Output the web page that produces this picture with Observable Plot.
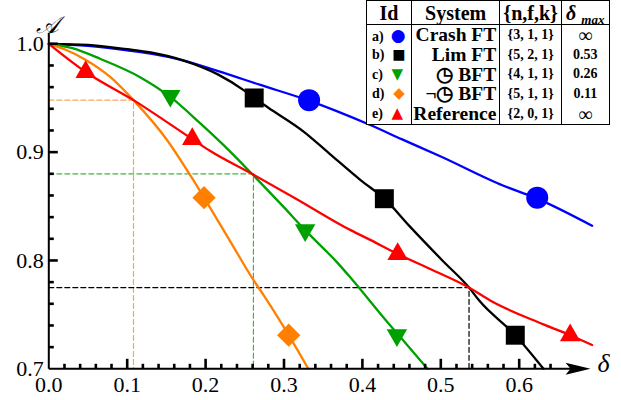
<!DOCTYPE html>
<html><head><meta charset="utf-8">
<script src="https://cdn.jsdelivr.net/npm/d3@7"></script>
<script src="https://cdn.jsdelivr.net/npm/@observablehq/plot@0.6"></script>
<style>
html,body{margin:0;padding:0;background:#fff;}
#wrap{position:relative;width:621px;height:400px;font-family:"Liberation Serif","Times New Roman",serif;}
#legend{position:absolute;left:366px;top:0px;border-collapse:collapse;table-layout:fixed;background:#fff;border:1.5px solid #000;color:#000;}
#legend td,#legend th{padding:0;margin:0;white-space:nowrap;line-height:1;}
#legend th{height:23px;font-weight:bold;font-size:20px;border-bottom:1px solid #000;border-right:1px solid #000;text-align:center;}
#legend td{height:18.8px;border-right:1px solid #000;font-weight:bold;}
#legend td.id{font-size:14px;text-align:left;padding-left:5px;}
#legend td.id span.g{display:inline-block;width:22px;text-align:center;font-family:"DejaVu Sans";font-weight:normal;}
#legend td.sys{font-size:19.5px;text-align:right;padding-right:3px;}
#legend td.nfk{font-size:14px;text-align:center;}
#legend td.dm{font-size:14px;text-align:center;}
#legend td.dm.inf{font-size:20px;font-weight:normal;}
</style></head><body><div id="wrap"></div><script>
// ---- legend table data ----
const ids = ["a)", "b)", "c)", "d)", "e)"];
const systems = ["Crash FT", "Lim FT", "\u25F7 BFT", "\u00AC\u25F7 BFT", "Reference"];
const nfk = ["{3, 1, 1}", "{5, 2, 1}", "{4, 1, 1}", "{5, 1, 1}", "{2, 0, 1}"];
const deltaMaxLabels = ["\u221E", "0.53", "0.26", "0.11", "\u221E"];
const colors = ["#0000ff", "#000000", "#00a000", "#ff8000", "#ff0000"];
const legendGlyphs = ["\u25CF", "\u25A0", "\u25BC", "\u25C6", "\u25B2"];
const glyphSizes = [17, 14, 15, 15, 15];

// ---- series (delta, A) ----
const crashD = [0, 0.05, 0.10, 0.13, 0.17, 0.215, 0.27, 0.33, 0.41, 0.45, 0.50, 0.58, 0.62, 0.693];
const crashA = [1.0, 0.998, 0.994, 0.991, 0.985, 0.975, 0.962, 0.948, 0.925, 0.912, 0.896, 0.869, 0.858, 0.832];
const limD = [0, 0.05, 0.10, 0.13, 0.17, 0.215, 0.249, 0.262, 0.28, 0.325, 0.359, 0.398, 0.428, 0.461, 0.502, 0.536, 0.549, 0.595, 0.631];
const limA = [1.0, 0.999, 0.995, 0.992, 0.985, 0.972, 0.957, 0.950, 0.941, 0.919, 0.898, 0.874, 0.857, 0.831, 0.800, 0.775, 0.763, 0.731, 0.70];
const bftD = [0, 0.03, 0.066, 0.117, 0.155, 0.194, 0.232, 0.259, 0.300, 0.327, 0.368, 0.385, 0.432, 0.444, 0.483];
const bftA = [1.0, 0.996, 0.986, 0.969, 0.951, 0.926, 0.900, 0.880, 0.849, 0.828, 0.798, 0.784, 0.743, 0.733, 0.70];
const nbftD = [0, 0.02, 0.045, 0.079, 0.108, 0.151, 0.181, 0.198, 0.232, 0.261, 0.274, 0.306, 0.331];
const nbftA = [1.0, 0.995, 0.986, 0.969, 0.948, 0.911, 0.878, 0.858, 0.817, 0.782, 0.768, 0.731, 0.70];
const refD = [0, 0.047, 0.108, 0.183, 0.206, 0.259, 0.313, 0.385, 0.41, 0.445, 0.49, 0.536, 0.563, 0.631, 0.665, 0.693];
const refA = [1.0, 0.974, 0.948, 0.912, 0.901, 0.880, 0.858, 0.828, 0.819, 0.806, 0.791, 0.775, 0.763, 0.741, 0.731, 0.722];

// ---- marker positions ----
const crashMD = [0.332, 0.623], crashMA = [0.948, 0.858];
const limMD = [0.262, 0.428, 0.595], limMA = [0.950, 0.857, 0.731];
const bftMD = [0.155, 0.327, 0.444], bftMA = [0.952, 0.828, 0.731];
const nbftMD = [0.198, 0.306], nbftMA = [0.858, 0.731];
const refMD = [0.047, 0.183, 0.445, 0.665], refMA = [0.974, 0.912, 0.806, 0.731];

// ---- delta_max guide lines ----
const guideD = [0.108, 0.261, 0.536];
const guideA = [0.948, 0.880, 0.775];
const guideColors = ["#f6a860", "#40b840", "#000000"];

// ---- ticks ----
const xMajor = [0, 0.1, 0.2, 0.3, 0.4, 0.5, 0.6];
const xMinor = [0.02, 0.04, 0.06, 0.08, 0.12, 0.14, 0.16, 0.18, 0.22, 0.24, 0.26, 0.28, 0.32, 0.34, 0.36, 0.38, 0.42, 0.44, 0.46, 0.48, 0.52, 0.54, 0.56, 0.58, 0.62, 0.64];
const xTickMajor = [0.1, 0.2, 0.3, 0.4, 0.5, 0.6];
const yMajor = [0.7, 0.8, 0.9, 1.0];
const yMinor = [0.72, 0.74, 0.76, 0.78, 0.82, 0.84, 0.86, 0.88, 0.92, 0.94, 0.96, 0.98];
const yTickMajor = [0.8, 0.9, 1.0];
const xLabel = "\u03B4";
const yLabel = "\uD835\uDC9C";

const zip = (d, a) => d.map((v, i) => ({d: v, a: a[i]}));
const series = [
  {pts: zip(crashD, crashA), m: zip(crashMD, crashMA), c: colors[0], sym: "circle", r: 11, rot: 0},
  {pts: zip(limD, limA), m: zip(limMD, limMA), c: colors[1], sym: "square", r: 10.7, rot: 0},
  {pts: zip(bftD, bftA), m: zip(bftMD, bftMA), c: colors[2], sym: "triangle", r: 7.6, rot: 180},
  {pts: zip(nbftD, nbftA), m: zip(nbftMD, nbftMA), c: colors[3], sym: "square", r: 9.3, rot: 45},
  {pts: zip(refD, refA), m: zip(refMD, refMA), c: colors[4], sym: "triangle", r: 7.6, rot: 0}
];

const W = 621, H = 400, mL = 48.3, mR = 23.9, mT = 43.3, mB = 31.7;
const xDom = [0, 0.7], yDom = [0.7, 1.0];
const frameH = H - mT - mB, frameW = W - mL - mR;
const yPer = (yDom[1] - yDom[0]) / frameH; // data units per pixel
const xPer = (xDom[1] - xDom[0]) / frameW;

const arrowSymbol = {draw(ctx) { ctx.moveTo(0, 0); ctx.lineTo(-25, -6); ctx.lineTo(-20, 0); ctx.lineTo(-25, 6); ctx.closePath(); }};

// tick segment tables built from the tick arrays
const xTickSegs = [
  ...xTickMajor.map(v => ({x1: v, x2: v, y1: yDom[0], y2: yDom[0] + 10 * yPer})),
  ...xMinor.map(v => ({x1: v, x2: v, y1: yDom[0], y2: yDom[0] + 5 * yPer}))
];
const yTickSegs = [
  ...yTickMajor.map(v => ({x1: xDom[0], x2: xDom[0] + 9 * xPer, y1: v, y2: v})),
  ...yMinor.map(v => ({x1: xDom[0], x2: xDom[0] + 5 * xPer, y1: v, y2: v}))
];

const marks = [];
// guides
guideD.forEach((g, i) => {
  marks.push(Plot.line([{d: 0, a: guideA[i]}, {d: g, a: guideA[i]}, {d: g, a: yDom[0]}],
    {x: "d", y: "a", stroke: guideColors[i], strokeWidth: 1.2, strokeDasharray: "5,3"}));
});
// curves
series.forEach(s => {
  marks.push(Plot.line(s.pts, {x: "d", y: "a", stroke: s.c, strokeWidth: 2.3, curve: "monotone-x"}));
});
series.forEach(s => {
  marks.push(Plot.dot(s.m, {x: "d", y: "a", symbol: s.sym, r: s.r, fill: s.c, stroke: "none", rotate: s.rot}));
});
// axis lines
marks.push(Plot.link([{x1: xDom[0], x2: xDom[0], y1: yDom[0], y2: yDom[1] + 11 * yPer}], {x1: "x1", x2: "x2", y1: "y1", y2: "y2", stroke: "#000", strokeWidth: 2}));
marks.push(Plot.link([{x1: xDom[0], x2: 0.67, y1: yDom[0], y2: yDom[0]}], {x1: "x1", x2: "x2", y1: "y1", y2: "y2", stroke: "#000", strokeWidth: 2}));
marks.push(Plot.dot([{d: 0.691, a: yDom[0]}], {x: "d", y: "a", symbol: arrowSymbol, r: 1, fill: "#000", stroke: "none"}));
// ticks (inward)
marks.push(Plot.link(xTickSegs, {x1: "x1", x2: "x2", y1: "y1", y2: "y2", stroke: "#000", strokeWidth: 2.6}));
marks.push(Plot.link(yTickSegs, {x1: "x1", x2: "x2", y1: "y1", y2: "y2", stroke: "#000", strokeWidth: 2.6}));
// tick labels
marks.push(Plot.axisX({ticks: xMajor, tickSize: 0, tickPadding: 8, tickFormat: d3.format(".1f"), label: null, fontSize: 22, fill: "#000"}));
marks.push(Plot.axisY({ticks: yMajor, tickSize: 0, tickPadding: 5, tickFormat: d3.format(".1f"), label: null, fontSize: 22, fill: "#000"}));
// axis titles
marks.push(Plot.text([yLabel], {text: d => d, frameAnchor: "top-left", dx: -1, dy: -28, textAnchor: "middle", fontSize: 24, fontStyle: "italic", fill: "#000"}));
marks.push(Plot.text([xLabel], {text: d => d, frameAnchor: "bottom-right", dx: 6, dy: 3, textAnchor: "middle", fontSize: 26, fontStyle: "italic", fill: "#000"}));

const chart = Plot.plot({
  width: W, height: H,
  marginLeft: mL, marginRight: mR, marginTop: mT, marginBottom: mB,
  x: {domain: xDom, axis: null},
  y: {domain: yDom, axis: null},
  style: {fontFamily: "'Liberation Serif', 'Times New Roman', serif", fontSize: "22px", background: "#fff", color: "#000"},
  marks
});
const wrap = document.getElementById("wrap");
wrap.appendChild(chart);

// legend table
const tbl = document.createElement("table");
tbl.id = "legend";
const cg = document.createElement("colgroup");
[45, 88.3, 61.7, 47.6].forEach(w => { const c = document.createElement("col"); c.style.width = w + "px"; cg.appendChild(c); });
tbl.appendChild(cg);
const hr = document.createElement("tr");
["Id", "System", "{n,f,k}"].forEach(t => { const th = document.createElement("th"); th.textContent = t; hr.appendChild(th); });
const thd = document.createElement("th");
thd.innerHTML = '<i>\u03B4</i> <i style="font-size:13px;position:relative;top:4px">max</i>';
hr.appendChild(thd);
tbl.appendChild(hr);
ids.forEach((id, i) => {
  const tr = document.createElement("tr");
  const c1 = document.createElement("td"); c1.className = "id";
  c1.innerHTML = id + ' <span class="g" style="color:' + colors[i] + ';font-size:' + glyphSizes[i] + 'px">' + legendGlyphs[i] + '</span>';
  const c2 = document.createElement("td"); c2.className = "sys"; c2.textContent = systems[i];
  const c3 = document.createElement("td"); c3.className = "nfk"; c3.textContent = nfk[i];
  const c4 = document.createElement("td"); c4.className = "dm" + (deltaMaxLabels[i] === "\u221E" ? " inf" : ""); c4.textContent = deltaMaxLabels[i];
  [c1, c2, c3, c4].forEach(c => tr.appendChild(c));
  tbl.appendChild(tr);
});
wrap.appendChild(tbl);
</script></body></html>
